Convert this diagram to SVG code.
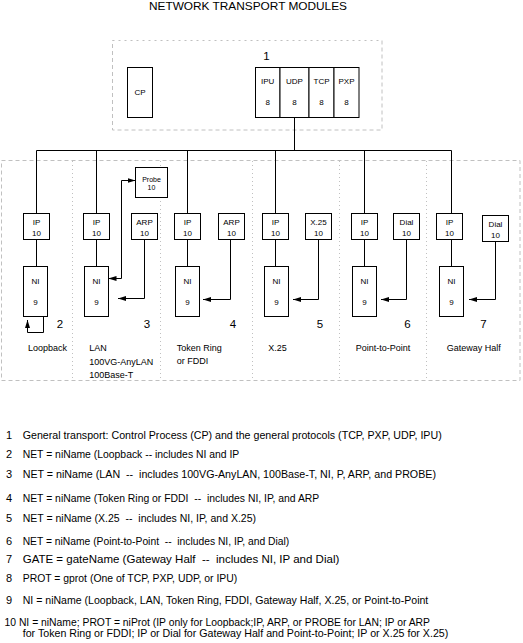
<svg xmlns="http://www.w3.org/2000/svg" width="523" height="643" viewBox="0 0 523 643">
<style>
text{font-family:"Liberation Sans",Arial,sans-serif;fill:#000}
.box{fill:#fff;stroke:#000;stroke-width:1}
.bt{font-size:8px;text-anchor:middle}
.pt{font-size:7px;text-anchor:middle}
.num{font-size:11.5px;text-anchor:middle}
.lbl{font-size:9px}
.leg{font-size:11px;white-space:pre}
.dash{fill:none;stroke:#c0c0c0;stroke-width:1;stroke-dasharray:4 3}
.fine{fill:none;stroke:#c0c0c0;stroke-width:1;stroke-dasharray:2 4}
.dot{fill:none;stroke:#c0c0c0;stroke-width:1;stroke-dasharray:1 3}
.con{fill:none;stroke:#000;stroke-width:1}
.arr{fill:none;stroke:#000;stroke-width:1;marker-end:url(#ah)}
</style>
<defs>
<marker id="ah" viewBox="0 0 8 6" refX="8" refY="3" markerWidth="8" markerHeight="6" markerUnits="userSpaceOnUse" orient="auto-start-reverse">
<path d="M0,0.5 L8,3 L0,5.5 Z" fill="#000"/>
</marker>
</defs>
<rect width="523" height="643" fill="#fff"/>
<text x="248" y="9.5" font-size="10.5" text-anchor="middle" textLength="198" lengthAdjust="spacingAndGlyphs">NETWORK TRANSPORT MODULES</text>

<g id="frames">
<path class="fine" d="M112.5,40.5H382"/>
<path class="dash" d="M382,40.5V130H112.5V40.5"/>
<rect class="dash" x="1.5" y="160.5" width="518.5" height="220"/>
<path class="dot" d="M72.5,161V380M160.5,161V380M252.5,161V380M339.5,161V380M426.5,161V380"/>
<text class="num" x="266.5" y="59.5" font-size="12">1</text>
</g>

<g id="connectors">
<path class="con" d="M294.5,117.5V150.5M36.5,150.5H451.5M36.5,150.5V213.5M96.5,150.5V213.5M187.5,150.5V213.5M275.5,150.5V213.5M364.5,150.5V213.5M451.5,150.5V213.5"/>
<path class="con" d="M36.5,239.5V266.5M96.5,239.5V266.5M187.5,239.5V266.5M275.5,239.5V266.5M364.5,239.5V266.5M451.5,239.5V266.5"/>
<path class="arr" d="M43.5,316.5V332.5H27.5V320"/>
<path class="arr" d="M144.5,239.5V298.5H118"/>
<path class="arr" style="marker-start:url(#ah)" d="M108.5,278.5H121.5V180.5H135.5"/>
<path class="arr" d="M230.5,239.5V299.5H203"/>
<path class="arr" d="M318.5,239.5V299.5H293"/>
<path class="arr" d="M406.5,239.5V299.5H381"/>
<path class="arr" d="M495.5,241.5V299.5H469"/>
</g>

<g id="cp"><rect class="box" x="127.5" y="67.5" width="25" height="50"/><text class="bt" x="140" y="95">CP</text></g>
<g id="ipu"><rect class="box" x="255.5" y="67.5" width="24.5" height="50"/><text class="bt" x="267.7" y="84">IPU</text><text class="bt" x="267.7" y="105">8</text></g>
<g id="udp"><rect class="box" x="280" y="67.5" width="29" height="50"/><text class="bt" x="294.5" y="84">UDP</text><text class="bt" x="294.5" y="105">8</text></g>
<g id="tcp"><rect class="box" x="309" y="67.5" width="25" height="50"/><text class="bt" x="321.5" y="84">TCP</text><text class="bt" x="321.5" y="105">8</text></g>
<g id="pxp"><rect class="box" x="334" y="67.5" width="25" height="50"/><text class="bt" x="346.5" y="84">PXP</text><text class="bt" x="346.5" y="105">8</text></g>

<g id="ip-loopback"><rect class="box" x="23.5" y="213.5" width="26" height="26"/><text class="bt" x="36.5" y="224.5">IP</text><text class="bt" x="36.5" y="235.5">10</text></g>
<g id="ni-loopback"><rect class="box" x="23.5" y="266.5" width="24" height="50"/><text class="bt" x="35.5" y="283.5">NI</text><text class="bt" x="35.5" y="304.5">9</text></g>

<g id="ip-lan"><rect class="box" x="83.5" y="213.5" width="26" height="26"/><text class="bt" x="96.5" y="224.5">IP</text><text class="bt" x="96.5" y="235.5">10</text></g>
<g id="arp-lan"><rect class="box" x="131.5" y="213.5" width="26" height="26"/><text class="bt" x="144.5" y="224.5">ARP</text><text class="bt" x="144.5" y="235.5">10</text></g>
<g id="probe"><rect class="box" x="135.5" y="167.5" width="32" height="30"/><text class="pt" x="151.5" y="181.5">Probe</text><text class="pt" x="151.5" y="189.5">10</text></g>
<g id="ni-lan"><rect class="box" x="84.5" y="266.5" width="24" height="50"/><text class="bt" x="96.5" y="283.5">NI</text><text class="bt" x="96.5" y="304.5">9</text></g>

<g id="ip-tr"><rect class="box" x="174.5" y="213.5" width="26" height="26"/><text class="bt" x="187.5" y="224.5">IP</text><text class="bt" x="187.5" y="235.5">10</text></g>
<g id="arp-tr"><rect class="box" x="218.5" y="213.5" width="26" height="26"/><text class="bt" x="231.5" y="224.5">ARP</text><text class="bt" x="231.5" y="235.5">10</text></g>
<g id="ni-tr"><rect class="box" x="175.5" y="266.5" width="24" height="50"/><text class="bt" x="187.5" y="283.5">NI</text><text class="bt" x="187.5" y="304.5">9</text></g>

<g id="ip-x25"><rect class="box" x="262.5" y="213.5" width="26" height="26"/><text class="bt" x="275.5" y="224.5">IP</text><text class="bt" x="275.5" y="235.5">10</text></g>
<g id="x25"><rect class="box" x="305.5" y="213.5" width="26" height="26"/><text class="bt" x="318.5" y="224.5">X.25</text><text class="bt" x="318.5" y="235.5">10</text></g>
<g id="ni-x25"><rect class="box" x="264.5" y="266.5" width="24" height="50"/><text class="bt" x="276.5" y="283.5">NI</text><text class="bt" x="276.5" y="304.5">9</text></g>

<g id="ip-p2p"><rect class="box" x="351.5" y="213.5" width="26" height="26"/><text class="bt" x="364.5" y="224.5">IP</text><text class="bt" x="364.5" y="235.5">10</text></g>
<g id="dial-p2p"><rect class="box" x="393.5" y="213.5" width="26" height="26"/><text class="bt" x="406.5" y="224.5">Dial</text><text class="bt" x="406.5" y="235.5">10</text></g>
<g id="ni-p2p"><rect class="box" x="352.5" y="266.5" width="24" height="50"/><text class="bt" x="364.5" y="283.5">NI</text><text class="bt" x="364.5" y="304.5">9</text></g>

<g id="ip-gw"><rect class="box" x="436.5" y="213.5" width="26" height="26"/><text class="bt" x="449.5" y="224.5">IP</text><text class="bt" x="449.5" y="235.5">10</text></g>
<g id="dial-gw"><rect class="box" x="482.5" y="215.5" width="26" height="26"/><text class="bt" x="495.5" y="226.5">Dial</text><text class="bt" x="495.5" y="237.5">10</text></g>
<g id="ni-gw"><rect class="box" x="439.5" y="266.5" width="24" height="50"/><text class="bt" x="451.5" y="283.5">NI</text><text class="bt" x="451.5" y="304.5">9</text></g>

<g id="section-labels">
<text class="num" x="60" y="328">2</text>
<text class="num" x="147" y="328">3</text>
<text class="num" x="233" y="328">4</text>
<text class="num" x="320" y="328">5</text>
<text class="num" x="407.5" y="328">6</text>
<text class="num" x="483.5" y="328">7</text>
<text class="lbl" x="28" y="350.5">Loopback</text>
<text class="lbl" x="89.3" y="350.5">LAN</text>
<text class="lbl" x="89.3" y="364.5">100VG-AnyLAN</text>
<text class="lbl" x="89.3" y="377.5">100Base-T</text>
<text class="lbl" x="176.7" y="351">Token Ring</text>
<text class="lbl" x="176.7" y="364">or FDDI</text>
<text class="lbl" x="268.3" y="351">X.25</text>
<text class="lbl" x="355.7" y="351">Point-to-Point</text>
<text class="lbl" x="446.7" y="351">Gateway Half</text>
</g>

<g id="legend">
<text class="leg" x="6" y="439">1</text>
<text class="leg" x="22.7" y="439" textLength="419" lengthAdjust="spacingAndGlyphs">General transport: Control Process (CP) and the general protocols (TCP, PXP, UDP, IPU)</text>
<text class="leg" x="6" y="458.3">2</text>
<text class="leg" x="22.7" y="458.3" textLength="216.6" lengthAdjust="spacingAndGlyphs">NET = niName (Loopback -- includes NI and IP</text>
<text class="leg" x="6" y="478.3">3</text>
<text class="leg" x="22.7" y="478.3" textLength="413.3" lengthAdjust="spacingAndGlyphs">NET = niName (LAN  --  includes 100VG-AnyLAN, 100Base-T, NI, P, ARP, and PROBE)</text>
<text class="leg" x="6" y="501.7">4</text>
<text class="leg" x="22.7" y="501.7" textLength="296.6" lengthAdjust="spacingAndGlyphs">NET = niName (Token Ring or FDDI  --  includes NI, IP, and ARP</text>
<text class="leg" x="6" y="522.3">5</text>
<text class="leg" x="22.7" y="522.3" textLength="233.3" lengthAdjust="spacingAndGlyphs">NET = niName (X.25  --  includes NI, IP, and X.25)</text>
<text class="leg" x="6" y="544.7">6</text>
<text class="leg" x="22.7" y="544.7" textLength="266.6" lengthAdjust="spacingAndGlyphs">NET = niName (Point-to-Point  --  includes NI, IP, and Dial)</text>
<text class="leg" x="6" y="563.3">7</text>
<text class="leg" x="22.7" y="563.3" textLength="316.6" lengthAdjust="spacingAndGlyphs">GATE = gateName (Gateway Half  --  includes NI, IP and Dial)</text>
<text class="leg" x="6" y="581.7">8</text>
<text class="leg" x="22.7" y="581.7" textLength="214.6" lengthAdjust="spacingAndGlyphs">PROT = gprot (One of TCP, PXP, UDP, or IPU)</text>
<text class="leg" x="6" y="604">9</text>
<text class="leg" x="22.7" y="604" textLength="405.6" lengthAdjust="spacingAndGlyphs">NI = niName (Loopback, LAN, Token Ring, FDDI, Gateway Half, X.25, or Point-to-Point</text>
<text class="leg" x="4.5" y="625.7" textLength="425.5" lengthAdjust="spacingAndGlyphs">10 NI = niName; PROT = niProt (IP only for Loopback;IP, ARP, or PROBE for LAN; IP or ARP</text>
<text class="leg" x="22.7" y="636.7" textLength="425.6" lengthAdjust="spacingAndGlyphs">for Token Ring or FDDI; IP or Dial for Gateway Half and Point-to-Point; IP or X.25 for X.25)</text>
</g>
</svg>
